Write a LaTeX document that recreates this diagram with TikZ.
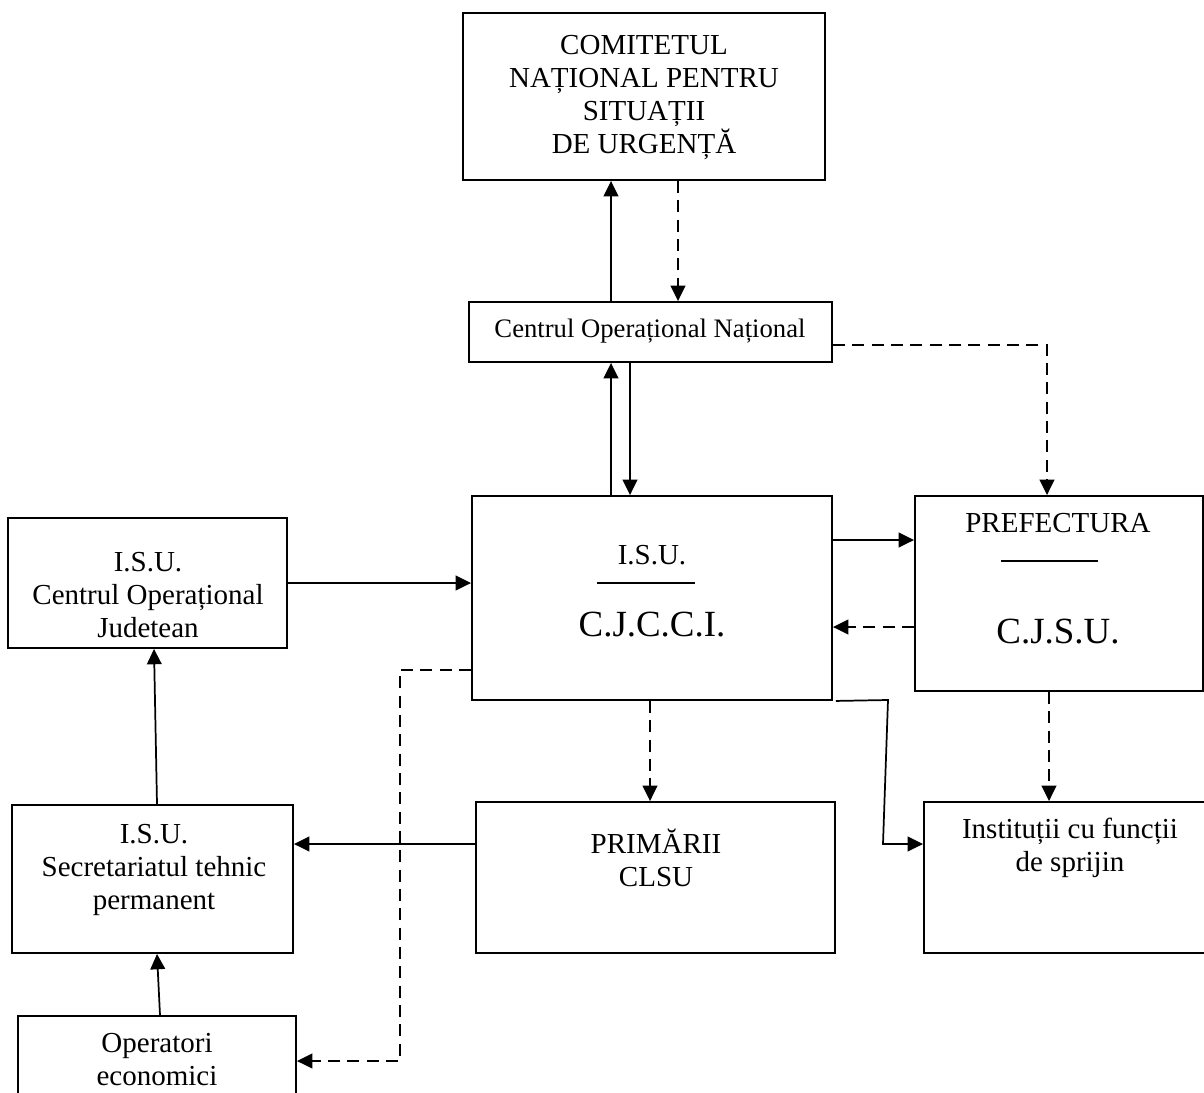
\documentclass[tikz,border=0pt]{standalone}
\usepackage{fontspec}
\setmainfont{Liberation Serif}
\usetikzlibrary{arrows.meta,fit}
\begin{document}
\begin{tikzpicture}[x=0.75pt,y=-0.75pt,
  box/.style={draw, line width=1.4pt, inner sep=0pt},
  txt/.style={inner sep=0pt, align=center, anchor=base, font=\fontsize{21.75pt}{24.75pt}\selectfont},
  small/.style={inner sep=0pt, anchor=base, font=\fontsize{20pt}{23pt}\selectfont},
  big/.style={inner sep=0pt, anchor=base, font=\fontsize{27.7pt}{31pt}\selectfont},
  conn/.style={line width=1.3pt},
  arr/.style={conn, -{Triangle[length=11.5pt,width=11pt]}},
  dsh/.style={arr, dash pattern=on 9pt off 5.5pt},
  rule/.style={line width=1.3pt}]
\useasboundingbox (0,0) rectangle (1204,1093);
\clip (0,0) rectangle (1204,1093);

% boxes
\node[box, fit={(463,13) (825,180)}] (cnsu) {};
\node[box, fit={(469,302) (832,362)}] (con) {};
\node[box, fit={(472,496) (832,700)}] (cjcci) {};
\node[box, fit={(915,496) (1203,691)}] (pref) {};
\node[box, fit={(8,518) (287,648)}] (coj) {};
\node[box, fit={(12,805) (293,953)}] (stp) {};
\node[box, fit={(18,1016) (296,1130)}] (oe) {};
\node[box, fit={(476,802) (835,953)}] (prim) {};
\node[box, fit={(924,802) (1216,953)}] (inst) {};

% texts (base anchor = baseline of last line)
\node[txt] (cnsu-t) at (644,153.3) {COMITETUL\\NAȚIONAL PENTRU\\SITUAȚII\\DE URGENȚĂ};
\node[small] (con-t) at (650,337) {Centrul Operațional Național};
\node[txt] (cjcci-t1) at (652,564) {I.S.U.};
\node[big] (cjcci-t2) at (652,636.7) {C.J.C.C.I.};
\node[txt] (pref-t1) at (1058,532.7) {PREFECTURA};
\node[big] (pref-t2) at (1058,643.3) {C.J.S.U.};
\node[txt] (coj-t) at (148,637.3) {I.S.U.\\Centrul Operațional\\Judetean};
\node[txt] (stp-t) at (154,909.3) {I.S.U.\\Secretariatul tehnic\\permanent};
\node[txt] (oe-t) at (157,1085) {Operatori\\economici};
\node[txt] (prim-t) at (656,886.6) {PRIMĂRII\\CLSU};
\node[txt] (inst-t) at (1070,871.7) {Instituții cu funcții\\de sprijin};

% rules inside boxes
\draw[rule] (597,582.7) -- (695,582.7);
\draw[rule] (1001,561) -- (1098,561);

% connectors
\draw[arr] (con.north -| 611,0) -- (cnsu.south -| 611,0);
\draw[dsh] (cnsu.south -| 678,0) -- (con.north -| 678,0);
\draw[arr] (cjcci.north -| 611,0) -- (con.south -| 611,0);
\draw[arr] (con.south -| 630,0) -- (cjcci.north -| 630,0);
\draw[dsh] (con.east |- 0,345) -| (pref.north -| 1047,0);
\draw[arr] (coj.east |- 0,583) -- (cjcci.west |- 0,583);
\draw[arr] (cjcci.east |- 0,540) -- (pref.west |- 0,540);
\draw[dsh] (pref.west |- 0,627) -- (cjcci.east |- 0,627);
\draw[dsh] (cjcci.south -| 650,0) -- (prim.north -| 650,0);
\draw[arr] ([xshift=2.25pt]cjcci.south east) -- (888,700) -- (883,844) -- (inst.west |- 0,844);
\draw[dsh] (pref.south -| 1049,0) -- (inst.north -| 1049,0);
\draw[arr] (prim.west |- 0,844) -- (stp.east |- 0,844);
\draw[arr] (stp.north -| 157,0) -- (coj.south -| 154,0);
\draw[arr] (oe.north -| 160,0) -- (stp.south -| 157,0);
\draw[dsh] (cjcci.west |- 0,670) -- (400,670) -- (400,1061) -- (oe.east |- 0,1061);
\end{tikzpicture}
\end{document}
